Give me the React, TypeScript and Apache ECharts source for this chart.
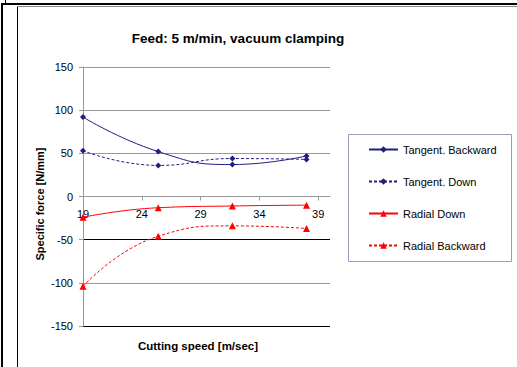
import React, { useEffect, useRef } from "react";
import * as echarts from "echarts";

const speeds = [19, 25.4, 31.7, 38];
const tangentBackward = [92, 52, 37, 47];
const tangentDown = [53, 36, 44, 43];
const radialDown = [-24, -13, -11, -10];
const radialBackward = [-104, -46, -34, -37];
const xTicks = [19, 24, 29, 34, 39];
const titleText = "Feed: 5 m/min, vacuum clamping";
const xName = "Cutting speed [m/sec]";
const yName = "Specific force [N/mm]";

const NAVY = "#1f1f7e";
const RED = "#ff0000";
const FONT = "Liberation Sans, Arial, sans-serif";

export default function App() {
  const ref = useRef<HTMLDivElement>(null);
  useEffect(() => {
    if (!ref.current) return;
    const chart = echarts.init(ref.current, null, { renderer: "svg" });
    const pairs = (ys: number[]) => speeds.map((x, i) => [x, ys[i]]);
    chart.setOption({
      animation: false,
      backgroundColor: "#fff",
      textStyle: { fontFamily: FONT },
      grid: { left: 83, right: 187, top: 67, bottom: 41 },
      xAxis: {
        type: "value",
        min: 19,
        max: 40,
        position: "bottom",
        offset: -129.5,
        axisLine: { onZero: false, lineStyle: { color: "#999", width: 1 } },
        axisTick: { show: true, length: 4, customValues: xTicks, lineStyle: { color: "#999" } },
        axisLabel: { customValues: xTicks, color: "#000", fontSize: 11, margin: 12, fontFamily: FONT },
        splitLine: { show: false },
      },
      yAxis: {
        type: "value",
        min: -150,
        max: 150,
        interval: 50,
        axisLine: { show: true, lineStyle: { color: "#999", width: 1 } },
        axisTick: { show: true, length: 4, lineStyle: { color: "#999" } },
        axisLabel: { color: "#000", fontSize: 11, margin: 10, fontFamily: FONT },
        splitLine: {
          show: true,
          lineStyle: { color: ["#000", "#999", "#000", "#999", "#999", "#999", "#999"], width: 1 },
        },
      },
      legend: {
        orient: "vertical",
        left: 368,
        top: 144,
        padding: 0,
        itemWidth: 29,
        itemHeight: 8,
        itemGap: 21,
        textStyle: { fontSize: 11, color: "#000", fontFamily: FONT },
        data: ["Tangent. Backward", "Tangent. Down", "Radial Down", "Radial Backward"],
      },
      series: [
        {
          name: "Tangent. Backward",
          type: "line",
          smooth: 0.5,
          data: pairs(tangentBackward),
          symbol: "diamond",
          symbolSize: 6,
          itemStyle: { color: NAVY },
          lineStyle: { color: NAVY, width: 1 },
        },
        {
          name: "Tangent. Down",
          type: "line",
          smooth: 0.5,
          data: pairs(tangentDown),
          symbol: "diamond",
          symbolSize: 6,
          itemStyle: { color: NAVY },
          lineStyle: { color: NAVY, width: 1, type: [3, 2] },
        },
        {
          name: "Radial Down",
          type: "line",
          smooth: 0.5,
          data: pairs(radialDown),
          symbol: "triangle",
          symbolSize: 7,
          itemStyle: { color: RED },
          lineStyle: { color: RED, width: 1 },
        },
        {
          name: "Radial Backward",
          type: "line",
          smooth: 0.5,
          data: pairs(radialBackward),
          symbol: "triangle",
          symbolSize: 7,
          itemStyle: { color: RED },
          lineStyle: { color: RED, width: 1, type: [3, 2] },
        },
      ],
      graphic: [
        { type: "rect", shape: { x: 1, y: 3, width: 516, height: 2 }, style: { fill: "#000" } },
        { type: "rect", shape: { x: 1, y: 3, width: 2, height: 364 }, style: { fill: "#000" } },
        { type: "rect", shape: { x: 5, y: 0, width: 1, height: 3 }, style: { fill: "#000" } },
        { type: "line", shape: { x1: 17.5, y1: 6, x2: 17.5, y2: 367 }, style: { stroke: "#000", lineWidth: 1 } },
        { type: "line", shape: { x1: 17, y1: 6.5, x2: 517, y2: 6.5 }, style: { stroke: "#888", lineWidth: 1 } },
        {
          type: "rect",
          shape: { x: 348.5, y: 134.5, width: 163, height: 127 },
          style: { fill: "none", stroke: "#9a9ac0", lineWidth: 1 },
          z: -1,
        },
        {
          type: "text",
          x: 238,
          y: 38,
          style: {
            text: titleText,
            fontSize: 13.5,
            fontWeight: "bold",
            fontFamily: FONT,
            fill: "#000",
            textAlign: "center",
            textVerticalAlign: "middle",
          },
        },
        {
          type: "text",
          x: 198,
          y: 346,
          style: {
            text: xName,
            fontSize: 11.5,
            fontWeight: "bold",
            fontFamily: FONT,
            fill: "#000",
            textAlign: "center",
            textVerticalAlign: "middle",
          },
        },
        {
          type: "text",
          x: 40,
          y: 204,
          rotation: Math.PI / 2,
          style: {
            text: yName,
            fontSize: 11,
            fontWeight: "bold",
            fontFamily: FONT,
            fill: "#000",
            textAlign: "center",
            textVerticalAlign: "middle",
          },
        },
      ],
    });
    return () => chart.dispose();
  }, []);
  return (
    <div
      ref={ref}
      style={{ position: "fixed", left: 0, top: 0, width: 517, height: 367, background: "#fff" }}
    />
  );
}
